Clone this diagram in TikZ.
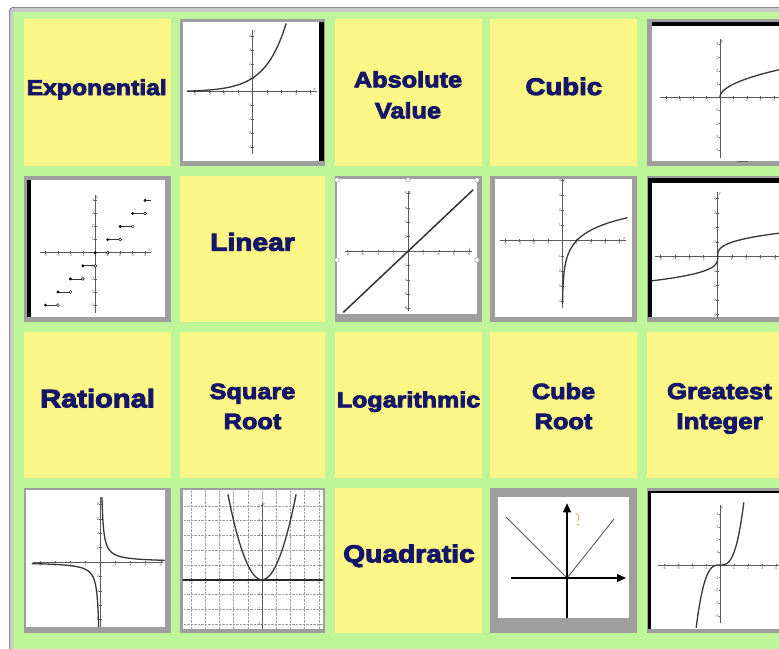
\documentclass[tikz,border=0pt]{standalone}
\usepackage{fontspec}
\setmainfont{Liberation Sans}
\newfontfamily\heavy{Liberation Sans}[BoldFeatures={FakeBold=4,FakeStretch=1.15}]
\usetikzlibrary{arrows.meta}
\definecolor{bggreen}{RGB}{190,245,152}
\definecolor{cellyellow}{RGB}{252,246,134}
\definecolor{framegray}{RGB}{158,158,158}
\definecolor{navytext}{RGB}{22,22,104}
\definecolor{outergray}{RGB}{200,200,200}
\definecolor{outerline}{RGB}{110,110,120}
\definecolor{axc}{RGB}{90,90,90}
\definecolor{crvc}{RGB}{55,55,55}
\definecolor{tlc}{RGB}{105,105,105}
\definecolor{handle}{RGB}{150,150,150}
\definecolor{markorange}{RGB}{230,140,60}
\definecolor{gridc}{RGB}{160,160,160}
\tikzset{
 ycell/.style={fill=cellyellow},
 gframe/.style={fill=framegray},
 wpane/.style={fill=white},
 bbar/.style={fill=black},
 lab/.style={font=\heavy\bfseries\fontsize{#1}{#1}\selectfont, text=navytext, anchor=base, inner sep=0pt},
 ax/.style={line width=0.55pt, draw=axc},
 tk/.style={line width=0.45pt, draw=axc},
 crv/.style={line width=1.3pt, draw=crvc, line cap=round, line join=round},
 tl/.style={font=\fontsize{4}{4.2}\selectfont, text=tlc, inner sep=0.5pt},
 axname/.style={font=\itshape\fontsize{4.2}{4.2}\selectfont, text=tlc, inner sep=0.6pt},
 hdl/.style={draw=handle, fill=white, line width=0.4pt},
 gridline/.style={draw=gridc, line width=0.35pt, dash pattern=on 0.7pt off 0.7pt},
}
% axes with ticks and tick labels
\newcommand\gaxes[7]{%
  \draw[ax] (#2,0) -- (#3,0);
  \draw[ax] (0,#4) -- (0,#5);
  \foreach \tv in {#6}{\draw[tk] (\tv,0) +(0,-1.4pt) -- +(0,1.4pt); \node[tl,below=0.6pt] (#1x\tv) at (\tv,0) {\tv};}
  \foreach \tv in {#7}{\draw[tk] (0,\tv) +(-1.4pt,0) -- +(1.4pt,0); \node[tl,left=0.6pt] (#1y\tv) at (0,\tv) {\tv};}
  \node[axname, anchor=north west] (#1yn) at (0,#5) {y};
}
\newcommand\xname[2]{\node[axname, anchor=south east] (#1xn) at (#2,0) {x};}
\begin{document}
\begin{tikzpicture}[x=1pt,y=-1pt]
\useasboundingbox (0,0) rectangle (779,648);
\clip (0,0) rectangle (779,648);
\fill[white] (0,0) rectangle (779,648);
% outer frame
\fill[outergray, rounded corners=4pt] (9,7) rectangle (820,700);
\draw[outerline, line width=0.6pt, rounded corners=4pt] (9.3,7.3) rectangle (820,700);
\fill[bggreen] (13,12) rectangle (820,700);

% ---------- yellow word cells ----------
\fill[ycell] (24,19) rectangle (171,166);
\fill[ycell] (335,19) rectangle (482,166);
\fill[ycell] (490,19) rectangle (637,166);
\fill[ycell] (180,176) rectangle (325,322);
\fill[ycell] (24,332) rectangle (171,478);
\fill[ycell] (180,332) rectangle (325,478);
\fill[ycell] (335,332) rectangle (482,478);
\fill[ycell] (490,332) rectangle (637,478);
\fill[ycell] (647,332) rectangle (800,478);
\fill[ycell] (335,488) rectangle (482,633);

\node[lab=21.5] (expo) at (96.7,95) {Exponential};
\node[lab=22] (absA) at (408,87.3) {Absolute};
\node[lab=22] (absB) at (408,118.3) {Value};
\node[lab=24] (cubic) at (563.8,95) {Cubic};
\node[lab=24.5] (linear) at (252.5,250.7) {Linear};
\node[lab=25.3] (rational) at (97.5,407.3) {Rational};
\node[lab=22] (sqA) at (252.5,399) {Square};
\node[lab=22] (sqB) at (252.5,429) {Root};
\node[lab=21.8] (loga) at (408.5,407.3) {Logarithmic};
\node[lab=22] (cbA) at (563.5,399) {Cube};
\node[lab=22] (cbB) at (563.5,429) {Root};
\node[lab=22.5] (grA) at (719.5,399) {Greatest};
\node[lab=22.5] (grB) at (719.6,429) {Integer};
\node[lab=24.5] (quad) at (409,562.3) {Quadratic};

% ---------- picture cells: frames ----------
% exponential graph
\fill[gframe] (180,19) rectangle (325,166);
\fill[wpane] (183,21.5) rectangle (319.3,161);
\fill[bbar] (319.3,21.5) rectangle (324.3,161);
% square root graph
\fill[gframe] (647,19) rectangle (800,166);
\fill[wpane] (652,26) rectangle (800,161);
\fill[bbar] (652,22.3) rectangle (800,26);
\draw[draw=axc, line width=1.3pt] (737,161.5) -- (748,161.5);
% step graph
\fill[gframe] (24,176) rectangle (171,322);
\fill[wpane] (30.7,180) rectangle (165,317);
\fill[bbar] (27.3,180) rectangle (30.7,317);
% linear graph
\fill[gframe] (335,176) rectangle (482,322);
\fill[wpane] (337,179) rectangle (477,314);
% log graph
\fill[gframe] (490,176) rectangle (637,322);
\fill[wpane] (495,179) rectangle (632,317);
% cube root graph
\fill[gframe] (647,176) rectangle (800,322);
\fill[wpane] (651.7,183) rectangle (800,317);
\fill[bbar] (648.3,178) rectangle (800,183);
\fill[bbar] (648.3,178) rectangle (651.7,317);
% rational graph
\fill[gframe] (24,488) rectangle (171,633);
\fill[wpane] (26.3,490) rectangle (164.7,627);
% parabola graph
\fill[gframe] (180,488) rectangle (325,633);
\fill[wpane] (182.7,490) rectangle (322.7,628.7);
% absolute value graph
\fill[gframe] (490,488) rectangle (637,633);
\fill[wpane] (498.3,496.7) rectangle (629.3,618.3);
% cubic graph
\fill[gframe] (647,488) rectangle (800,633);
\fill[wpane] (650.7,492.5) rectangle (800,629.3);
\fill[bbar] (648.3,490.7) rectangle (800,492.5);
\fill[bbar] (648.3,490.7) rectangle (650.7,629.3);

% ---------- graphs ----------
% exponential
\begin{scope}
 \clip (183,21.5) rectangle (319.3,161);
 \begin{scope}[shift={(252.7,91.7)}, x=14.5pt, y=13.8pt]
  \gaxes{ge}{-4.5}{4.4}{-4.5}{4.5}{-4,-3,-2,-1,1,2,3,4}{-4,-3,-2,-1,1,2,3,4}
  \xname{ge}{4.4}
  \draw[crv] plot[domain=-4.5:2.3, samples=60] (\x,{exp(0.693147*\x)});
 \end{scope}
\end{scope}
% square root
\begin{scope}
 \clip (652,26) rectangle (779,161);
 \begin{scope}[shift={(720,97.3)}, x=13.5pt, y=13.2pt]
  \gaxes{gs}{-4.45}{5.5}{-4.6}{4.4}{-4,-3,-2,-1,1,2,3,4}{-4,-3,-2,-1,1,2,3,4}
  \draw[crv] plot[domain=0:2.4, samples=50] ({\x*\x},\x);
 \end{scope}
\end{scope}
% step (greatest integer)
\begin{scope}
 \clip (30.7,180) rectangle (165,317);
 \begin{scope}[shift={(95.3,252.7)}, x=12.45pt, y=13.1pt]
  \gaxes{gt}{-4.47}{4.5}{-4.6}{4.4}{-4,-3,-2,-1,1,2,3,4}{-4,-3,-2,-1,1,2,3,4}
  \xname{gt}{4.5}
  \foreach \n in {-4,...,3}{
    \draw[crvc, line width=0.8pt] (\n,\n) -- (\n+1,\n);
    \fill[black] (\n,\n) circle (1.6pt);
    \draw[black, fill=white, line width=0.45pt] (\n+1,\n) circle (1.5pt);
  }
  \draw[crvc, line width=0.8pt] (4,4) -- (4.45,4);
  \fill[black] (4,4) circle (1.6pt);
 \end{scope}
\end{scope}
% linear
\begin{scope}
 \clip (337,179) rectangle (477,314);
 \begin{scope}[shift={(408.3,251)}, x=7.625pt, y=7.2pt]
  \gaxes{gl}{-8.3}{8.3}{-8.4}{8.4}{-8,-6,-4,-2,2,4,6,8}{-8,-6,-4,-2,2,4,6,8}
  \xname{gl}{8.3}
  \draw[crv, line width=1.5pt, draw=black!80] (-8.5,-8.5) -- (8.5,8.5);
 \end{scope}
\end{scope}
\foreach \hx/\hy in {337/180, 408/180, 477/180, 337/260, 477/260}{
  \draw[hdl] (\hx,\hy) circle (2.3pt);
}
% logarithmic
\begin{scope}
 \clip (495,179) rectangle (632,317);
 \begin{scope}[shift={(562.3,240.7)}, x=14.3pt, y=15.2pt]
  \gaxes{gg}{-4.36}{4.45}{-4.45}{4.1}{-4,-3,-2,-1,1,2,3,4}{-4,-3,-2,-1,1,2,3,4}
  \xname{gg}{4.45}
  \draw[crv] plot[domain=-4.1:1.51, samples=70] ({exp(\x)},\x);
 \end{scope}
\end{scope}
% cube root
\begin{scope}
 \clip (651.7,183) rectangle (779,317);
 \begin{scope}[shift={(717.7,256.7)}, x=14.3pt, y=14.5pt]
  \gaxes{gc}{-4.38}{5.5}{-4.3}{4.48}{-4,-3,-2,-1,1,2,3,4}{-4,-3,-2,-1,1,2,3,4}
  \draw[crv] plot[domain=-1.67:1.75, samples=70] ({\x*\x*\x},\x);
 \end{scope}
\end{scope}
% rational
\begin{scope}
 \clip (26.3,490) rectangle (164.7,627);
 \begin{scope}[shift={(100.3,562)}, x=7.56pt, y=7.2pt]
  \gaxes{gr}{-8.9}{8.3}{-9}{9}{-8,-6,-4,-2,2,4,6,8}{-8,-6,-4,-2,2,4,6,8}
  \xname{gr}{8.3}
  \draw[crv] plot[domain=-1.5:2.14, samples=70] ({exp(\x)},{2/exp(\x)});
  \draw[crv] plot[domain=-1.5:2.2, samples=70] ({-exp(\x)},{-2/exp(\x)});
 \end{scope}
\end{scope}
% quadratic
\begin{scope}
 \clip (182.7,490) rectangle (322.7,628.7);
 \begin{scope}[shift={(262,579.7)}, x=14.2pt, y=14.8pt]
  \foreach \gx in {-5,...,4}{\draw[gridline] (\gx,-3.6) -- (\gx,6);}
  \foreach \gy in {-3,...,5}{\draw[gridline] (-5.6,\gy) -- (4.6,\gy);}
  \gaxes{gq}{-5.6}{4.6}{-3.6}{5.2}{-5,-4,-3,-2,-1,1,2,3,4}{-3,-2,-1,1,2,3,4,5}
  \draw[black!85, line width=1.6pt] (-5.6,0) -- (4.6,0);
  \draw[crv] plot[domain=-2.4:2.4, samples=60] (\x,{\x*\x});
 \end{scope}
\end{scope}
% absolute value (V)
\begin{scope}
 \clip (498.3,496.7) rectangle (629.3,618.3);
 \draw[draw=axc, line width=0.9pt] (506,517) -- (567,578) -- (614,519);
 \draw[black, line width=1.1pt, -{Triangle[length=9pt,width=8pt]}] (567,618.3) -- (567,503.3);
 \draw[black, line width=1.1pt, -{Triangle[length=9pt,width=8pt]}] (510.5,578) -- (626,578);
 \draw[markorange, line width=0.6pt] (575.8,513) .. controls (579,514) and (579.5,518) .. (577.8,521.5);
 \fill[markorange] (578,524.5) circle (0.8pt);
 \draw[axc, line width=0.8pt] (517,619) arc (180:0:3);
\end{scope}
% cubic
\begin{scope}
 \clip (650.7,492.5) rectangle (779,629.3);
 \begin{scope}[shift={(720,565)}, x=14pt, y=12.7pt]
  \gaxes{gk}{-4.4}{5.5}{-4.6}{4.7}{-4,-3,-2,-1,1,2,3,4}{-4,-3,-2,-1,1,2,3,4}
  \draw[crv] plot[domain=-1.7:1.7, samples=60] (\x,{\x*\x*\x});
 \end{scope}
\end{scope}
\end{tikzpicture}
\end{document}
